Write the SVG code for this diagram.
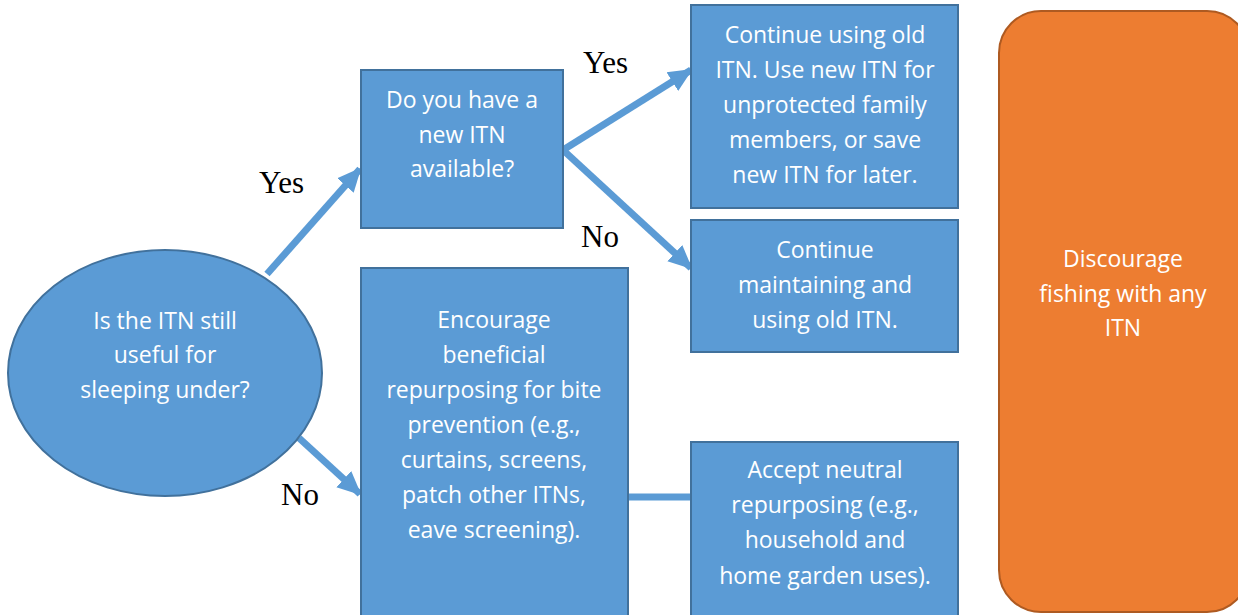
<svg xmlns="http://www.w3.org/2000/svg" width="1238" height="615" viewBox="0 0 1238 615">
<style>
.node{fill:#5B9BD5;stroke:#41719C;stroke-width:2}
.orange{fill:#ED7D31;stroke:#AE5A21;stroke-width:2}
.t{font-family:"Open Sans","Liberation Sans",sans-serif;font-size:23px;fill:#FFFFFF;text-anchor:middle}
.lbl{font-family:"Liberation Serif",serif;font-size:31px;fill:#000000}
.conn{stroke:#5B9BD5;stroke-width:7;fill:none}
</style>
<defs>
<marker id="ah" markerUnits="userSpaceOnUse" markerWidth="24" markerHeight="24" viewBox="0 0 24 24" refX="22" refY="12" orient="auto">
<path d="M0,1 L24,12 L0,23 Z" fill="#5B9BD5"/>
</marker>
</defs>
<rect width="1238" height="615" fill="#FFFFFF"/>
<g id="connectors">
<line class="conn" x1="267" y1="274" x2="360" y2="169" marker-end="url(#ah)"/>
<line class="conn" x1="299" y1="438" x2="360" y2="494" marker-end="url(#ah)"/>
<line class="conn" x1="563" y1="150" x2="691" y2="70" marker-end="url(#ah)"/>
<line class="conn" x1="563" y1="150" x2="691" y2="268" marker-end="url(#ah)"/>
<line class="conn" x1="628" y1="497" x2="691" y2="497"/>
</g>
<g id="labels">
<text class="lbl" x="259" y="193">Yes</text>
<text class="lbl" x="281" y="505">No</text>
<text class="lbl" x="583" y="73">Yes</text>
<text class="lbl" x="581" y="247">No</text>
</g>
<g id="n-start">
<ellipse class="node" cx="165" cy="373" rx="157" ry="123"/>
<text class="t"><tspan x="165" y="329">Is the ITN still</tspan><tspan x="165" y="363">useful for</tspan><tspan x="165" y="398">sleeping under?</tspan></text>
</g>
<g id="n-new">
<rect class="node" x="361" y="70" width="202" height="158"/>
<text class="t"><tspan x="462" y="108">Do you have a</tspan><tspan x="462" y="143">new ITN</tspan><tspan x="462" y="177">available?</tspan></text>
</g>
<g id="n-old">
<rect class="node" x="691" y="5" width="267" height="203"/>
<text class="t"><tspan x="825" y="43">Continue using old</tspan><tspan x="825" y="78">ITN. Use new ITN for</tspan><tspan x="825" y="113">unprotected family</tspan><tspan x="825" y="148">members, or save</tspan><tspan x="825" y="183">new ITN for later.</tspan></text>
</g>
<g id="n-maintain">
<rect class="node" x="691" y="220" width="267" height="132"/>
<text class="t"><tspan x="825" y="258">Continue</tspan><tspan x="825" y="293">maintaining and</tspan><tspan x="825" y="328">using old ITN.</tspan></text>
</g>
<g id="n-encourage">
<rect class="node" x="361" y="268" width="267" height="352"/>
<text class="t"><tspan x="494" y="328">Encourage</tspan><tspan x="494" y="363">beneficial</tspan><tspan x="494" y="398">repurposing for bite</tspan><tspan x="494" y="433">prevention (e.g.,</tspan><tspan x="494" y="468">curtains, screens,</tspan><tspan x="494" y="503">patch other ITNs,</tspan><tspan x="494" y="538">eave screening).</tspan></text>
</g>
<g id="n-accept">
<rect class="node" x="691" y="442" width="267" height="178"/>
<text class="t"><tspan x="825" y="478">Accept neutral</tspan><tspan x="825" y="513">repurposing (e.g.,</tspan><tspan x="825" y="548">household and</tspan><tspan x="825" y="584">home garden uses).</tspan></text>
</g>
<g id="n-discourage">
<rect class="orange" x="999" y="11" width="250" height="601" rx="42" ry="42"/>
<text class="t"><tspan x="1123" y="267">Discourage</tspan><tspan x="1123" y="302">fishing with any</tspan><tspan x="1123" y="336">ITN</tspan></text>
</g>
</svg>
